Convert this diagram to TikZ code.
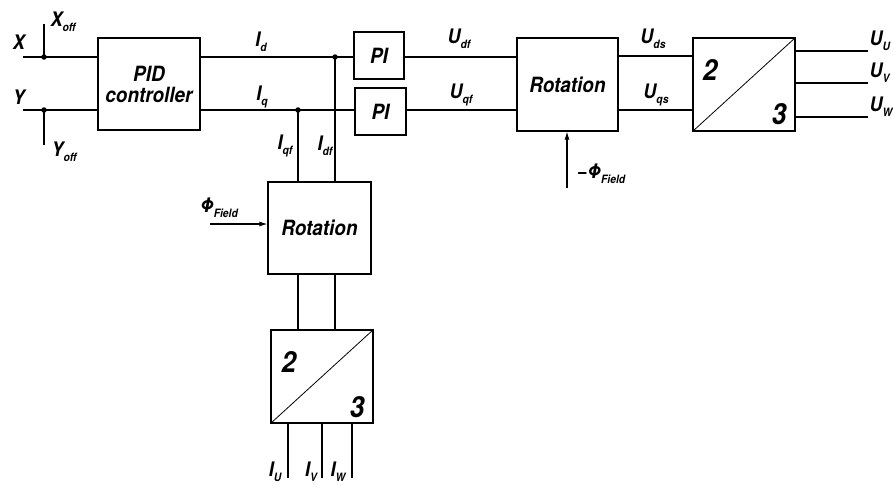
\documentclass[tikz,border=0pt]{standalone}
\usepackage{fontspec}
\setmainfont{TeX Gyre Heros}[FakeStretch=0.9]
\usetikzlibrary{arrows.meta}
\newcommand{\sbs}[1]{\raisebox{-0.45ex}{\fontsize{11.5}{11.5}\selectfont #1}}
\begin{document}
\begin{tikzpicture}[x=1pt,y=-1pt,line width=1.1pt,
  every node/.style={font=\bfseries\itshape\fontsize{20}{22}\selectfont, inner sep=0pt},
  blk/.style={draw, minimum width=102pt, minimum height=92pt, align=center, font=\bfseries\itshape\fontsize{21}{23}\selectfont},
  pibox/.style={draw, minimum width=50pt, minimum height=47pt, font=\bfseries\itshape\fontsize{21}{23}\selectfont},
  digit/.style={font=\bfseries\itshape\fontsize{29}{29}\selectfont},
  dot/.style={circle, fill, minimum size=5.5pt, inner sep=0pt},
  arr/.style={-{Latex[length=8pt,width=5pt]}}]
\useasboundingbox (0,0) rectangle (893,488);

% boxes
\node[blk] (pid) at (149,84) {PID\\[-2pt]controller};
\node[pibox] (pi1) at (379,55.5) {PI};
\node[pibox, minimum width=51pt] (pi2) at (380.5,111.5) {PI};
\node[blk, minimum width=101pt, minimum height=93pt] (rot1) at (567.5,84.5) {Rotation};
\node[blk, minimum height=93pt] (conv1) at (744,84.5) {};
\node[blk, minimum width=103pt] (rot2) at (319.5,228) {Rotation};
\node[blk, minimum height=93pt] (conv2) at (322,376.5) {};
\draw[line width=0.8pt] (conv1.south west) -- (conv1.north east);
\draw[line width=0.8pt] (conv2.south west) -- (conv2.north east);
\node[digit] (c1two) at (710,70) {2};
\node[digit] (c1three) at (779,114) {3};
\node[digit] (c2two) at (289,362) {2};
\node[digit] (c2three) at (357,407) {3};

% inputs
\coordinate (xin) at (23,57);
\coordinate (yin) at (23,110);
\node[dot] (xdot) at (44,57) {};
\node[dot] (ydot) at (44,110) {};
\coordinate (xtop) at (44,24);
\coordinate (ybot) at (44,145);
\draw (xin) -- (xin -| pid.west);
\draw (yin) -- (yin -| pid.west);
\draw (xtop) -- (xdot.center);
\draw (ydot.center) -- (ybot);
\node (xl) at (19,42) {X};
\node (yl) at (19,97) {Y};
\node (xoff) at (63,22) {X\sbs{off}};
\node (yoff) at (64,152) {Y\sbs{off}};

% Id / Iq
\coordinate (pidd) at (pid.east |- xin);
\coordinate (pidq) at (pid.east |- yin);
\node[dot] (dd) at (335,57) {};
\node[dot] (dq) at (298,110) {};
\draw (pidd) -- (pidd -| pi1.west);
\draw (pidq) -- (pidq -| pi2.west);
\draw (dd.center) -- (dd |- rot2.north);
\draw (dq.center) -- (dq |- rot2.north);
\node (idl) at (261,42) {I\sbs{d}};
\node (iql) at (262,97) {I\sbs{q}};
\node (iqfl) at (285,146) {I\sbs{qf}};
\node (idfl) at (325,146) {I\sbs{df}};

% PI to rotation
\draw (pi1.east |- xin) -- (rot1.west |- xin);
\draw (pi2.east |- yin) -- (rot1.west |- yin);
\node (udfl) at (459,39) {U\sbs{df}};
\node (uqfl) at (461,95) {U\sbs{qf}};

% rotation to 2/3
\draw (rot1.east |- 0,56) -- (conv1.west |- 0,56);
\draw (rot1.east |- yin) -- (conv1.west |- yin);
\node (udsl) at (653,39) {U\sbs{ds}};
\node (uqsl) at (656,95) {U\sbs{qs}};

% outputs
\coordinate (uu) at (868,51);
\coordinate (uv) at (868,83);
\coordinate (uw) at (868,117);
\draw (conv1.east |- uu) -- (uu);
\draw (conv1.east |- uv) -- (uv);
\draw (conv1.east |- uw) -- (uw);
\node[anchor=west] (uul) at (869,41) {U\sbs{U}};
\node[anchor=west] (uvl) at (869,73) {U\sbs{V}};
\node[anchor=west] (uwl) at (869,107) {U\sbs{W}};

% -Phi arrow
\coordinate (phib) at (567,188);
\draw[arr] (phib) -- (phib |- rot1.south);
\node (mphi) at (601,174) {−Φ\sbs{Field}};

% Phi arrow into lower rotation
\coordinate (phil) at (210,224);
\draw[arr] (phil) -- (phil -| rot2.west);
\node (phill) at (219,208) {Φ\sbs{Field}};

% rotation to 2/3 lower
\draw (dq |- rot2.south) -- (dq |- conv2.north);
\draw (dd |- rot2.south) -- (dd |- conv2.north);

% current outputs
\coordinate (iu) at (288,478);
\coordinate (iv) at (322,478);
\coordinate (iw) at (352,478);
\draw (iu |- conv2.south) -- (iu);
\draw (iv |- conv2.south) -- (iv);
\draw (iw |- conv2.south) -- (iw);
\node (iul) at (275,472) {I\sbs{U}};
\node (ivl) at (311,472) {I\sbs{V}};
\node (iwl) at (338,472) {I\sbs{W}};
\end{tikzpicture}
\end{document}
